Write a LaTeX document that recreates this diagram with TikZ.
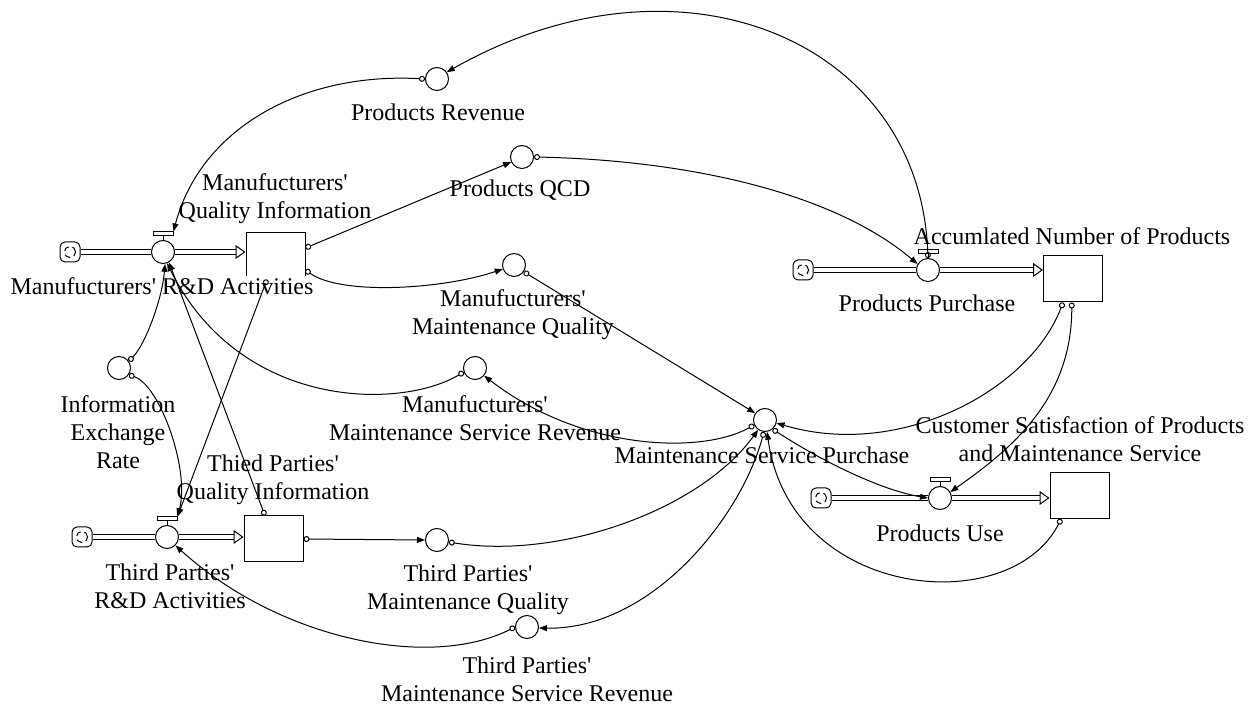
\documentclass[tikz,border=0pt]{standalone}
\usepackage{fontspec}
\setmainfont{Liberation Serif}
\usetikzlibrary{arrows.meta,positioning}

\begin{document}
\begin{tikzpicture}[x=0.5pt,y=-0.5pt,line width=0.5pt,font=\fontsize{12}{14}\selectfont]
		\tikzstyle{stock}=[draw,minimum width=29.5pt,minimum height=23pt,inner sep=0pt]
		\tikzstyle{aux}=[draw,circle,minimum size=11.5pt,inner sep=0pt]
		\tikzstyle{valve}=[draw,circle,fill=white,minimum size=11.5pt,inner sep=0pt]
		\tikzstyle{cloudsym}=[draw,rounded corners=2.5pt,minimum size=10pt,inner sep=0pt,path picture={\draw[densely dashed] (path picture bounding box.center) circle (2.8pt);}]
		\tikzstyle{handle}=[draw,fill=white,minimum width=10pt,minimum height=2pt,inner sep=0pt]
		\tikzstyle{lbl}=[inner sep=0.5pt,align=center]
		\tikzstyle{pipe}=[double distance=1.6pt]
		\tikzstyle{inflow}=[pipe,-{Triangle[open,length=5pt,width=7pt]}]
		\tikzstyle{causal}=[{Circle[open,length=3pt]}-{Triangle[length=4pt,width=3pt]}]
		\useasboundingbox (0,0) rectangle (1255,716);
		\node[cloudsym] (mcloud) at (70,252) {};
		\node[valve] (mvalve) at (163,252) {};
		\node[stock] (mstock) at (275.5,256) {};
		\node[cloudsym] (tcloud) at (82,537) {};
		\node[valve] (tvalve) at (167,537) {};
		\node[stock] (tstock) at (273.5,539) {};
		\node[cloudsym] (pcloud) at (803,270) {};
		\node[valve] (pvalve) at (928,270) {};
		\node[stock] (pstock) at (1073,279) {};
		\node[cloudsym] (ucloud) at (821,498) {};
		\node[valve] (uvalve) at (940,498) {};
		\node[stock] (ustock) at (1079.5,495.5) {};
		\foreach \s in {m,t,p,u} {
			\node[handle,above=1.75pt of \s valve] (\s handle) {};
			\draw (\s valve.north) -- (\s handle.south);
		}
		\node[aux] (prev) at (437,79) {};
		\node[aux] (qcd) at (522,157) {};
		\node[aux] (mmq) at (514,265) {};
		\node[aux] (mmsr) at (475,368) {};
		\node[aux] (ier) at (119,368) {};
		\node[aux] (msp) at (765,420) {};
		\node[aux] (tmq) at (437,540) {};
		\node[aux] (tmsr) at (527,627) {};
		\draw[pipe] (mcloud) -- (mvalve);
		\draw[inflow] (mvalve) -- (mvalve -| mstock.west);
		\draw[pipe] (tcloud) -- (tvalve);
		\draw[inflow] (tvalve) -- (tvalve -| tstock.west);
		\draw[pipe] (pcloud) -- (pvalve);
		\draw[inflow] (pvalve) -- (pvalve -| pstock.west);
		\draw[pipe] (ucloud) -- (uvalve);
		\draw[inflow] (uvalve) -- (uvalve -| ustock.west);
		\node[lbl] (prevlbl) at (438,112) {Products Revenue};
		\node[lbl] (mqilbl) at (275,199) {Manufucturers\textquotesingle\\Quality Information};
		\node[lbl] (qcdlbl) at (520,190) {Products QCD};
		\node[lbl,fill=white] (mvalvelbl) at (162,286) {Manufucturers\textquotesingle{} R\&D Activities};
		\node[lbl] (pstocklbl) at (1072,236) {Accumlated Number of Products};
		\node[lbl] (pvalvelbl) at (927,303) {Products Purchase};
		\node[lbl] (mmqlbl) at (513,315) {Manufucturers\textquotesingle\\Maintenance Quality};
		\node[lbl] (ierlbl) at (118,432) {Information\\Exchange\\Rate};
		\node[lbl] (mmsrlbl) at (475,418) {Manufucturers\textquotesingle\\Maintenance Service Revenue};
		\node[lbl] (csatlbl) at (1080,439) {Customer Satisfaction of Products\\and Maintenance Service};
		\node[lbl] (msplbl) at (762,455) {Maintenance Service Purchase};
		\node[lbl] (tqilbl) at (273,480) {Thied Parties\textquotesingle\\Quality Information};
		\node[lbl] (uvalvelbl) at (940,533) {Products Use};
		\node[lbl] (tvalvelbl) at (170,586) {Third Parties\textquotesingle\\R\&D Activities};
		\node[lbl] (tmqlbl) at (468,590) {Third Parties\textquotesingle\\Maintenance Quality};
		\node[lbl] (tmsrlbl) at (527,679) {Third Parties\textquotesingle\\Maintenance Service Revenue};
		\draw[causal] (pvalve.north) .. controls (920,40) and (680,-60) .. (prev.35);
		\draw[causal] (prev.west) .. controls (300,72) and (200,130) .. (mhandle.north east);
		\draw[causal] (mstock.15) -- (qcd.205);
		\draw[causal] (mstock.-25) .. controls (340,295) and (440,290) .. (mmq.200);
		\draw[causal] (qcd.east) .. controls (680,160) and (830,190) .. (pvalve.150);
		\draw[causal] (mmq.-35) -- (msp.145);
		\draw[causal] (msp.-155) .. controls (700,455) and (580,450) .. (mmsr.-40);
		\draw[causal] (mmsr.-160) .. controls (400,410) and (240,410) .. (mvalve.-70);
		\draw[causal] (ier.35) .. controls (145,345) and (162,300) .. (mvalve.-80);
		\draw[causal] (ier.-35) .. controls (160,385) and (190,470) .. (thandle.north east);
		\draw[causal] (tstock.110) -- (mvalve.-60);
		\draw[causal] (mstock.-110) -- (thandle.north east);
		\draw[causal] (tstock.east) -- (tmq.west);
		\draw[causal] (tmq.-10) .. controls (560,560) and (700,510) .. (msp.-125);
		\draw[causal] (msp.-95) .. controls (740,520) and (650,630) .. (tmsr.-5);
		\draw[causal] (tmsr.west) .. controls (430,670) and (280,640) .. (tvalve.-45);
		\draw[causal] (pstock.-113) .. controls (1030,390) and (900,460) .. (msp.-15);
		\draw[causal] (pstock.-93) .. controls (1072,400) and (1010,450) .. (uvalve.30);
		\draw[causal] (msp.-50) .. controls (820,460) and (880,490) .. (uvalve.west);
		\draw[causal] (ustock.-128) .. controls (1010,620) and (790,600) .. (msp.-80);
\end{tikzpicture}
\end{document}
